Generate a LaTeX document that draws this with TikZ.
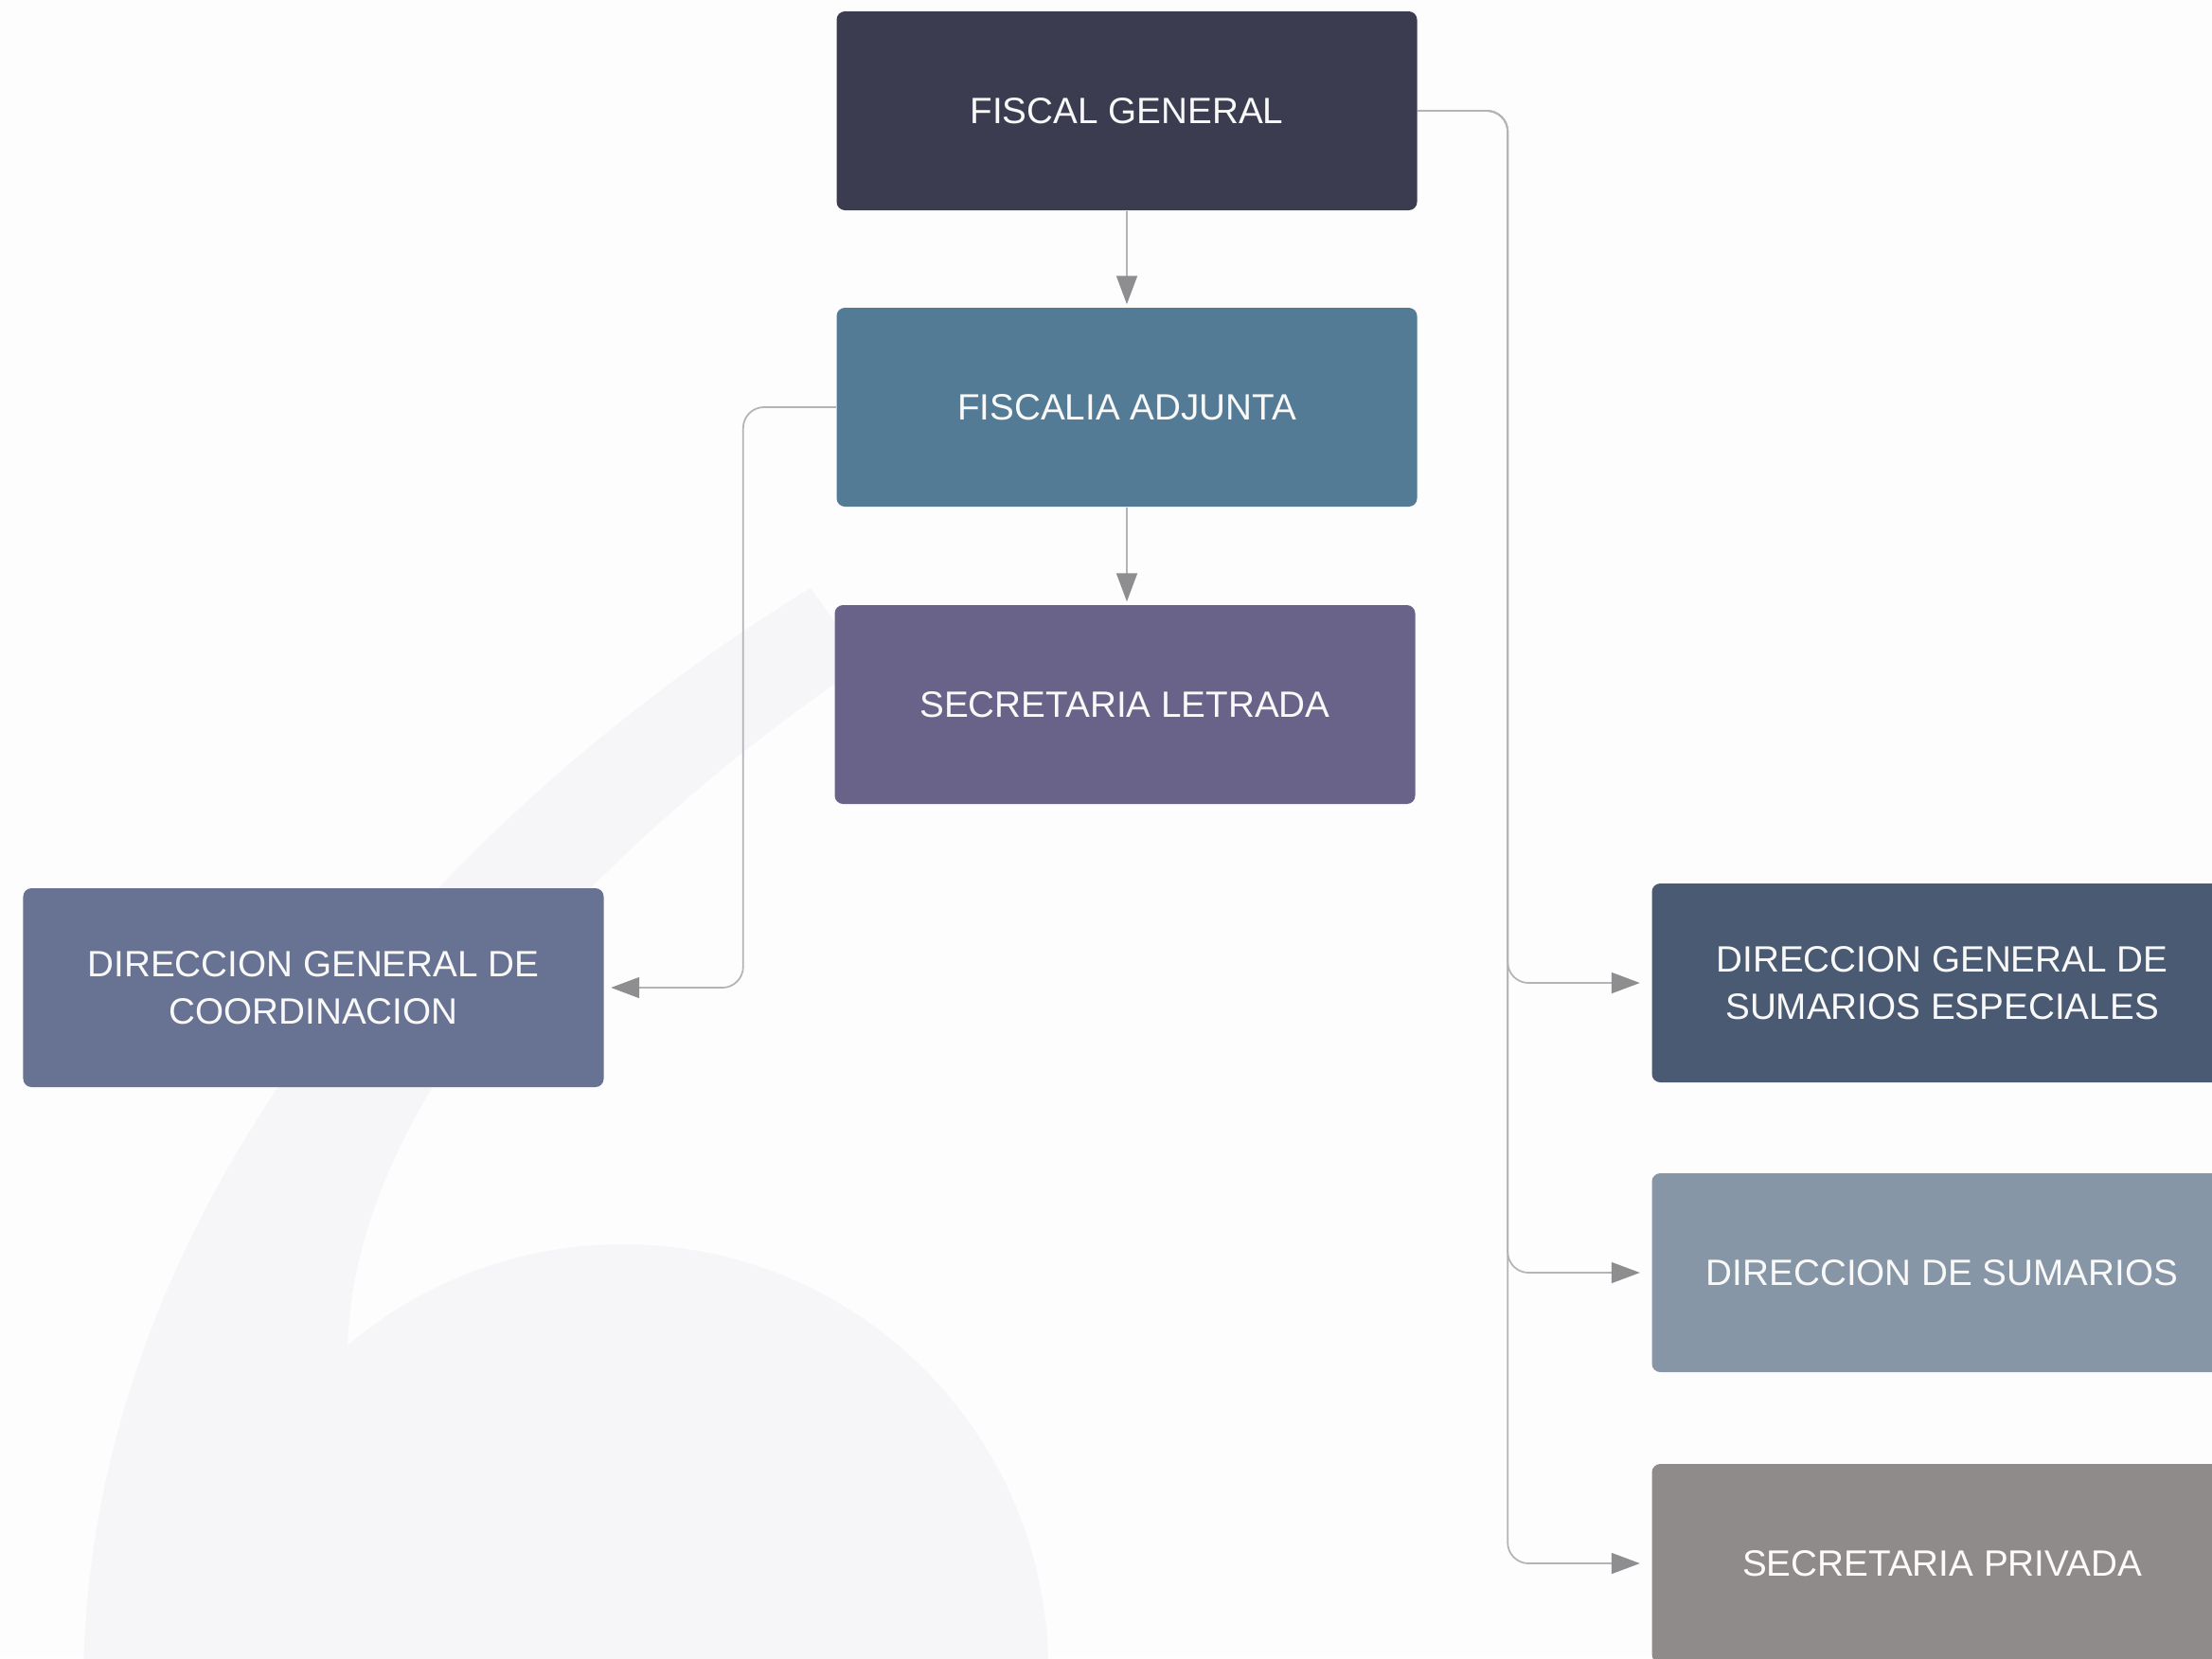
\documentclass[tikz,border=0pt]{standalone}
\usepackage{fontspec}
\setmainfont{Liberation Sans}
\usetikzlibrary{arrows.meta}
\definecolor{paper}{HTML}{FDFDFE}
\definecolor{wmark}{HTML}{F6F5F8}
\definecolor{linegray}{HTML}{B4B4B8}
\definecolor{tipgray}{HTML}{8E8E90}
\definecolor{cfiscal}{HTML}{3C3C51}
\definecolor{cadjunta}{HTML}{547B95}
\definecolor{cletrada}{HTML}{6A6389}
\definecolor{ccoord}{HTML}{687293}
\definecolor{cespec}{HTML}{4A5A72}
\definecolor{csumar}{HTML}{8696A6}
\definecolor{cprivada}{HTML}{8F8B8B}
\tikzset{
  unit/.style={rectangle, rounded corners=2.5pt, minimum width=6.13cm, minimum height=2.1cm,
    text=white!95!gray, align=center, font=\fontsize{11}{14.2}\selectfont},
  link/.style={draw=linegray, line width=0.5pt, rounded corners=0.22cm,
    -{Triangle[length=0.3cm,width=0.22cm,fill=tipgray,color=tipgray]}}
}
\begin{document}
\begin{tikzpicture}
\useasboundingbox (0,0) rectangle (23.36,-17.51);
\fill[paper] (0,0) rectangle (23.36,-17.51);
\begin{scope}
\clip (0,0) rectangle (23.36,-17.51);
% background quote mark
\fill[wmark] (8.56,-6.21) -- (9.05,-6.9) -- (8.83,-7.21) .. controls (6,-9.2) and (3.7,-11.8) .. (3.67,-14.27)
  -- (4.2,-17.8) -- (0.88,-17.8) .. controls (0.9,-12.5) and (5,-8.4) .. (8.56,-6.21) -- cycle;
\fill[wmark] (6.58,-17.63) circle (4.49);
% units
\node[unit, fill=cfiscal] (fiscal) at (11.9,-1.17) {FISCAL GENERAL};
\node[unit, fill=cadjunta] (adjunta) at (11.9,-4.30) {FISCALIA ADJUNTA};
\node[unit, fill=cletrada] (letrada) at (11.88,-7.44) {SECRETARIA LETRADA};
\node[unit, fill=ccoord] (coord) at (3.31,-10.43) {DIRECCION GENERAL DE\\COORDINACION};
\node[unit, fill=cespec] (especiales) at (20.51,-10.38) {DIRECCION GENERAL DE\\SUMARIOS ESPECIALES};
\node[unit, fill=csumar] (sumarios) at (20.51,-13.44) {DIRECCION DE SUMARIOS};
\node[unit, fill=cprivada, text=white!92!pink] (privada) at (20.51,-16.51) {SECRETARIA PRIVADA};
\end{scope}
% links
\draw[link] (fiscal.south) -- ([yshift=0.03cm]adjunta.north);
\draw[link] (adjunta.south) -- ([yshift=0.03cm]adjunta.south |- letrada.north);
\draw[link] (adjunta.west) -- ++(-0.98,0) |- ([xshift=0.07cm]coord.east);
\draw[link] (fiscal.east) -- ++(0.95,0) |- ([xshift=-0.12cm]especiales.west);
\draw[link] (fiscal.east) -- ++(0.95,0) |- ([xshift=-0.12cm]sumarios.west);
\draw[link] (fiscal.east) -- ++(0.95,0) |- ([xshift=-0.12cm]privada.west);
\end{tikzpicture}
\end{document}
